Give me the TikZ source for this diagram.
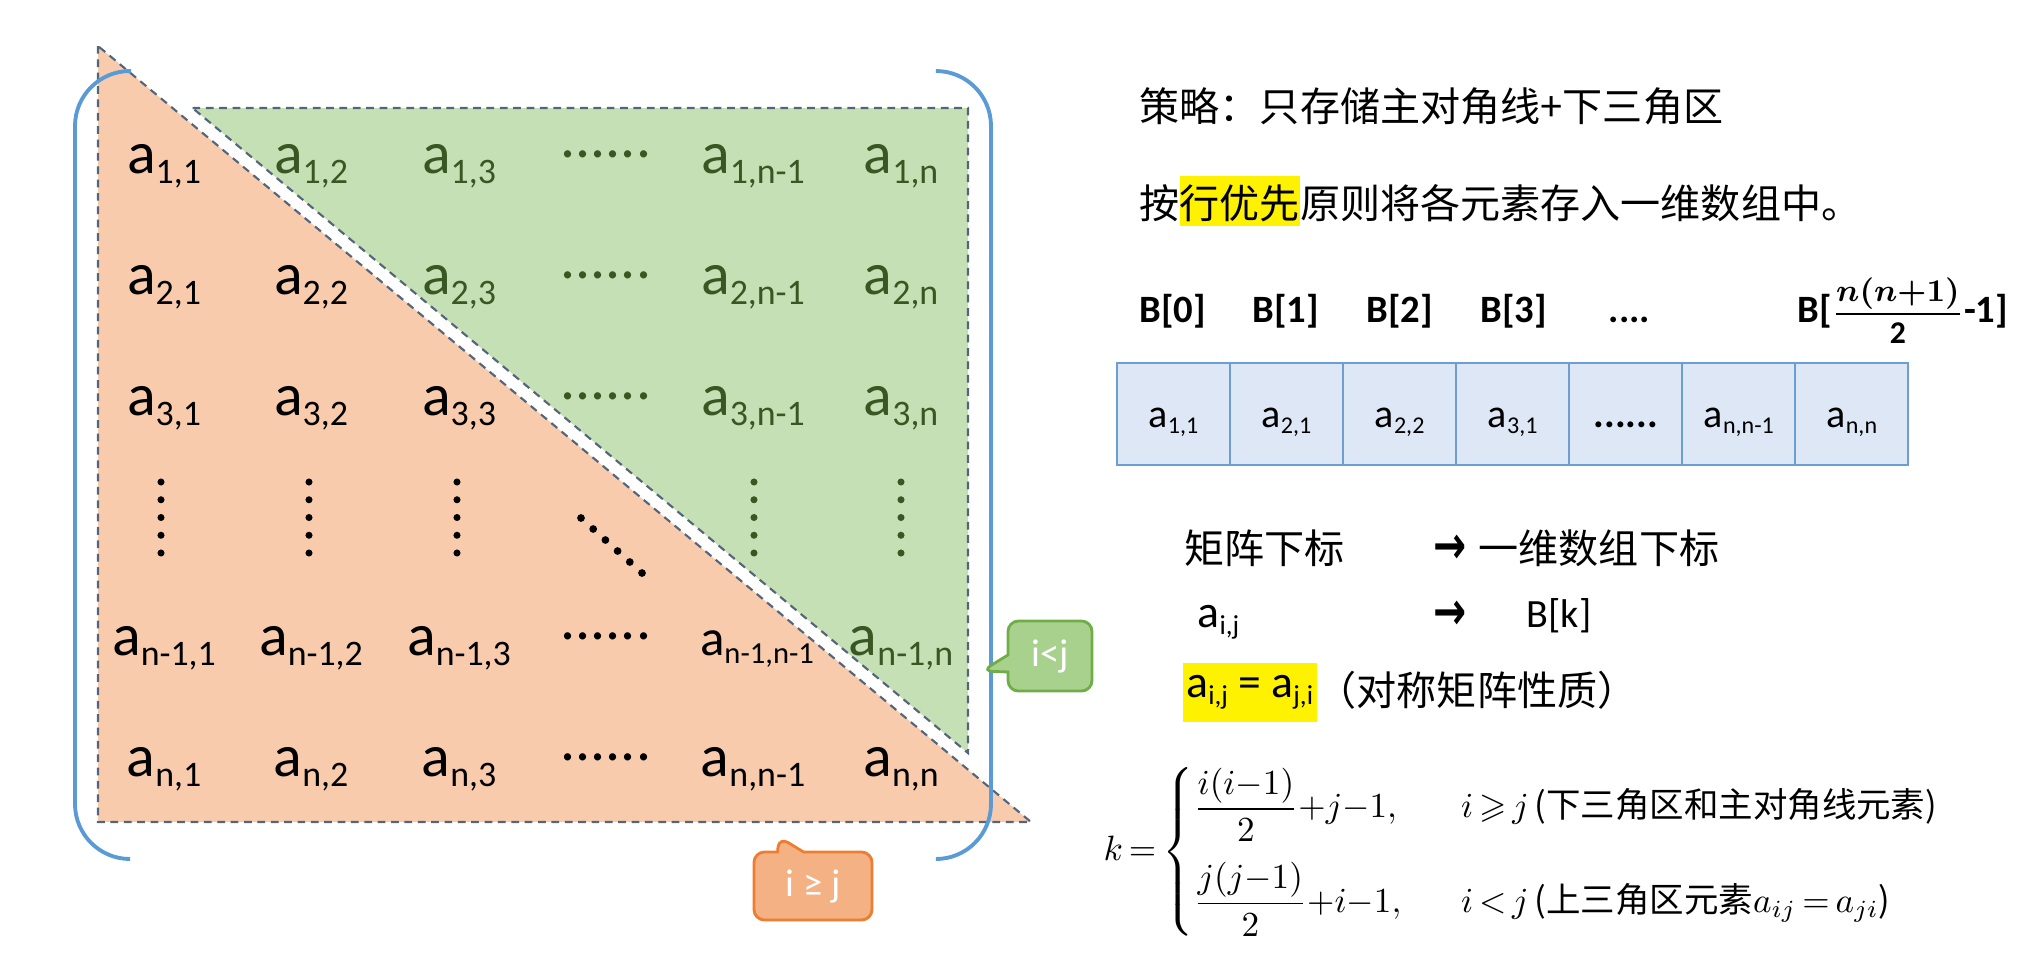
\documentclass[tikz,border=0pt]{standalone}
\usepackage{fontspec}
\setmainfont{Carlito}
\newfontfamily\cjk{Noto Sans CJK SC}
\newfontfamily\djv{DejaVu Sans}
\usepackage{amsmath,amssymb}
\usepackage{graphicx}
\usetikzlibrary{positioning, shapes.callouts}
\definecolor{Morange}{RGB}{248,203,173}
\definecolor{Mgreen}{RGB}{197,224,180}
\definecolor{Mdgreen}{RGB}{56,87,35}
\definecolor{Mline}{RGB}{84,100,122}
\definecolor{Mblue}{RGB}{91,155,213}
\definecolor{Mcell}{RGB}{222,231,245}
\definecolor{Mcellb}{RGB}{108,158,208}
\definecolor{Mcgreen}{RGB}{169,209,142}
\definecolor{Mcgreenb}{RGB}{112,173,71}
\definecolor{Mcorange}{RGB}{244,177,131}
\definecolor{Mcorangeb}{RGB}{237,125,49}
\newcommand{\idx}[1]{\raisebox{-0.17em}{\scalebox{0.6}{#1}}}
\newcommand{\hlt}[1]{{\setlength{\fboxsep}{0pt}\colorbox{yellow}{\rule[-0.2em]{0pt}{1.25em}#1}}}

\begin{document}
\begin{tikzpicture}[
  x=0.01cm, y=-0.01cm,
  ent/.style={anchor=base, inner sep=0pt, font=\fontsize{17}{20}\selectfont},
  upr/.style={ent, text=Mdgreen},
  dln/.style={draw=Mline, line width=0.6pt, dash pattern=on 2.2pt off 1.6pt},
  brk/.style={draw=Mblue, line width=1.1pt, rounded corners=0.55cm},
  cell/.style={draw=Mcellb, fill=Mcell, line width=0.6pt, outer sep=0pt,
               minimum width=1.13cm, minimum height=1.02cm, inner sep=0pt,
               text height=9pt, text depth=1.6pt,
               font=\fontsize{11.4}{14}\selectfont},
  txt/.style={anchor=base west, inner sep=0pt, font=\cjk\fontsize{11.4}{14}\selectfont},
  lat/.style={anchor=base west, inner sep=0pt, font=\fontsize{11.4}{14}\selectfont},
  lbl/.style={anchor=base west, inner sep=0pt, font=\bfseries\fontsize{11}{13}\selectfont},
  arw/.style={anchor=west, inner sep=0pt, font=\djv\bfseries\fontsize{15}{17}\selectfont},
  note/.style={rectangle callout, rounded corners=3pt, line width=0.8pt,
               text=white, inner sep=0pt, font=\fontsize{11}{13}\selectfont}
]
\useasboundingbox (0,0) rectangle (2038,969);

\filldraw[fill=Morange, dln] (98,46) -- (98,822) -- (1031,822) -- cycle;
\filldraw[fill=Mgreen, dln] (192.5,108) -- (968,108) -- (968,753) -- cycle;

\draw[brk] (131,71) -- (75,71) -- (75,859) -- (130,859);
\draw[brk] (938,71) -- (991,71) -- (991,859) -- (937,859);

\node[ent] (m11) at (164,173) {a\idx{1,1}};
\node[upr] (m12) at (311,173) {a\idx{1,2}};
\node[upr] (m13) at (459,173) {a\idx{1,3}};
\node[upr] (m14) at (606,173) {\raisebox{4.5pt}{......}};
\node[upr] (m15) at (753,173) {a\idx{1,n-1}};
\node[upr] (m16) at (901,173) {a\idx{1,n}};

\node[ent] (m21) at (164,294) {a\idx{2,1}};
\node[ent] (m22) at (311,294) {a\idx{2,2}};
\node[upr] (m23) at (459,294) {a\idx{2,3}};
\node[upr] (m24) at (606,294) {\raisebox{4.5pt}{......}};
\node[upr] (m25) at (753,294) {a\idx{2,n-1}};
\node[upr] (m26) at (901,294) {a\idx{2,n}};

\node[ent] (m31) at (164,415) {a\idx{3,1}};
\node[ent] (m32) at (311,415) {a\idx{3,2}};
\node[ent] (m33) at (459,415) {a\idx{3,3}};
\node[upr] (m34) at (606,415) {\raisebox{4.5pt}{......}};
\node[upr] (m35) at (753,415) {a\idx{3,n-1}};
\node[upr] (m36) at (901,415) {a\idx{3,n}};

\node[ent] (m51) at (164,655) {a\idx{n-1,1}};
\node[ent] (m52) at (311,655) {a\idx{n-1,2}};
\node[ent] (m53) at (459,655) {a\idx{n-1,3}};
\node[ent] (m54) at (606,655) {\raisebox{4.5pt}{......}};
\node[ent, font=\fontsize{14.5}{17}\selectfont] (m55) at (757,655) {a\idx{n-1,n-1}};
\node[upr] (m56) at (901,655) {a\idx{n-1,n}};

\node[ent] (m61) at (164,776) {a\idx{n,1}};
\node[ent] (m62) at (311,776) {a\idx{n,2}};
\node[ent] (m63) at (459,776) {a\idx{n,3}};
\node[ent] (m64) at (606,776) {\raisebox{4.5pt}{......}};
\node[ent] (m65) at (753,776) {a\idx{n,n-1}};
\node[ent] (m66) at (901,776) {a\idx{n,n}};

\foreach \x in {161,309,457}
  \foreach \k in {0,...,4} \fill (\x,{482+17.75*\k}) circle (1pt);
\foreach \x in {754,901}
  \foreach \k in {0,...,4} \fill[Mdgreen] (\x,{482+17.75*\k}) circle (1pt);
\foreach \k in {0,...,5} \fill ({581+12.2*\k},{518+11*\k}) circle (1.1pt);

\node[note, fill=Mcgreen, draw=Mcgreenb, minimum width=0.84cm, minimum height=0.70cm,
      callout absolute pointer={(982,671)}, callout pointer width=0.17cm] (lt) at (1050,656) {i<j};
\node[note, fill=Mcorange, draw=Mcorangeb, minimum width=1.18cm, minimum height=0.68cm,
      callout absolute pointer={(779,837)}, callout pointer width=0.26cm] (ge) at (813,886) {i ≥ j};

\node[txt] (plan) at (1139,121) {策略：只存储主对角线+下三角区};
\node[txt] (rule) at (1139,218) {按\hlt{行优先}原则将各元素存入一维数组中。};

\node[lbl] (b0) at (1139,322) {B[0]};
\node[lbl] (b1) at (1252,322) {B[1]};
\node[lbl] (b2) at (1366,322) {B[2]};
\node[lbl] (b3) at (1480,322) {B[3]};
\node[lbl] (bd) at (1608,322) {....};
\node[lbl] (bn) at (1797,322)
  {B[{\fontsize{9}{9}\selectfont\boldmath$\dfrac{n(n{+}1)}{\text{2}}$}-1]};

\node[cell] (c1) at (1173.5,414) {a\idx{1,1}};
\node[cell, right=0pt of c1] (c2) {a\idx{2,1}};
\node[cell, right=0pt of c2] (c3) {a\idx{2,2}};
\node[cell, right=0pt of c3] (c4) {a\idx{3,1}};
\node[cell, right=0pt of c4] (c5) {\textbf{......}};
\node[cell, right=0pt of c5] (c6) {a\idx{n,n-1}};
\node[cell, right=0pt of c6] (c7) {a\idx{n,n}};

\node[txt] (mi) at (1184,563) {矩阵下标};
\node[arw] (ar1) at (1433,549) {\scalebox{0.75}[1]{→}};
\node[txt] (vi) at (1478,563) {一维数组下标};

\node[lat, font=\fontsize{13}{15}\selectfont] (aij) at (1197,627) {a\idx{i,j}};
\node[arw] (ar2) at (1433,615) {\scalebox{0.75}[1]{→}};
\node[lat] (bk) at (1526,627) {B[k]};

\node[fill=yellow, minimum width=1.34cm, minimum height=0.59cm, inner sep=0pt,
      anchor=north west, font=\fontsize{13}{15}\selectfont] (sym) at (1182,662) {a\idx{i,j} = a\idx{j,i}};
\node[txt] (symn) at (1316,705) {（对称矩阵性质）};

\node[anchor=west, inner sep=0pt, font=\fontsize{10}{12}\selectfont] (kf) at (1103,852)
  {\medmuskip=0mu\thickmuskip=3mu
   $k=\left\{\begin{array}{@{}l@{\hspace{17pt}}l@{}}
   \dfrac{i(i-1)}{2}+j-1, & i\geqslant j\;\text{\cjk\fontsize{9.8}{12}\selectfont(下三角区和主对角线元素)}\\[9pt]
   \dfrac{j(j-1)}{2}+i-1, & i<j\;\text{\cjk\fontsize{9.8}{12}\selectfont(上三角区元素}a_{ij}=a_{ji}\text{\cjk\fontsize{9.8}{12}\selectfont)}
   \end{array}\right.$};
\end{tikzpicture}
\end{document}
